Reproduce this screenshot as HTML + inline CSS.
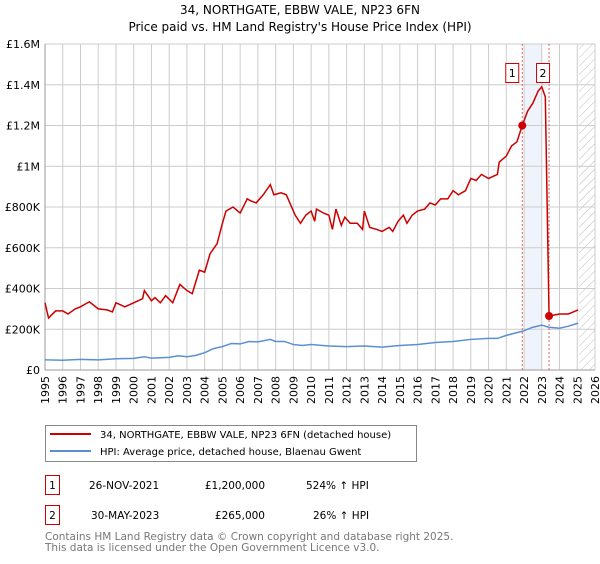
<!DOCTYPE html>
<html><head><meta charset="utf-8"><style>
body{margin:0;background:#fff;font-family:"DejaVu Sans","Liberation Sans",sans-serif;}
svg text{font-family:"DejaVu Sans","Liberation Sans",sans-serif;}
</style></head><body>
<svg id="chart" width="600" height="560" viewBox="0 0 600 560" xmlns="http://www.w3.org/2000/svg">
<defs><pattern id="hatch" width="6" height="6" patternUnits="userSpaceOnUse" patternTransform="rotate(45)"><line x1="0" y1="0" x2="0" y2="6" stroke="#bbb" stroke-width="1"/></pattern></defs>
<text x="300" y="14" text-anchor="middle" font-size="12">34, NORTHGATE, EBBW VALE, NP23 6FN</text>
<text x="300" y="31" text-anchor="middle" font-size="12">Price paid vs. HM Land Registry's House Price Index (HPI)</text>
<g id="grid"></g>
<g id="marks"></g>
<g>
<rect x="45.5" y="425.5" width="371" height="36" fill="#fff" stroke="#888"/>
<line x1="50" y1="434" x2="91" y2="434" stroke="#cc0000" stroke-width="2"/>
<text x="100" y="438" font-size="10">34, NORTHGATE, EBBW VALE, NP23 6FN (detached house)</text>
<line x1="50" y1="451" x2="91" y2="451" stroke="#5b8fd4" stroke-width="2"/>
<text x="100" y="455" font-size="10">HPI: Average price, detached house, Blaenau Gwent</text>
</g>
<g font-size="10.5">
<rect x="45.5" y="475.5" width="14" height="19" fill="#fff" stroke="#cc0000"/>
<text x="52.5" y="489" text-anchor="middle">1</text>
<text x="89" y="489">26-NOV-2021</text><text x="265" y="489" text-anchor="end">£1,200,000</text><text x="306" y="489">524% ↑ HPI</text>
<rect x="45.5" y="505.5" width="14" height="19" fill="#fff" stroke="#cc0000"/>
<text x="52.5" y="519" text-anchor="middle">2</text>
<text x="91" y="519">30-MAY-2023</text><text x="265" y="519" text-anchor="end">£265,000</text><text x="313" y="519">26% ↑ HPI</text>
</g>
<text x="45" y="540" font-size="10.5" fill="#777">Contains HM Land Registry data © Crown copyright and database right 2025.</text>
<text x="45" y="551" font-size="10.5" fill="#777">This data is licensed under the Open Government Licence v3.0.</text>
</svg>
<script>
const redYears=[1995,1995.2,1995.6,1996,1996.3,1996.7,1997,1997.5,1998,1998.5,1998.8,1999,1999.5,2000,2000.5,2000.6,2001,2001.2,2001.5,2001.8,2002.2,2002.6,2003,2003.3,2003.7,2004,2004.3,2004.7,2005,2005.2,2005.6,2006,2006.4,2006.6,2006.9,2007.3,2007.7,2007.9,2008.3,2008.6,2008.8,2009.1,2009.4,2009.7,2010,2010.2,2010.3,2010.7,2011,2011.2,2011.4,2011.7,2011.9,2012.2,2012.6,2012.9,2013,2013.3,2013.7,2014,2014.4,2014.6,2014.9,2015.2,2015.4,2015.7,2016,2016.4,2016.7,2017,2017.3,2017.7,2018,2018.3,2018.7,2019,2019.3,2019.6,2020,2020.5,2020.6,2021,2021.3,2021.6,2021.9,2022.2,2022.5,2022.8,2023,2023.2,2023.41,2023.7,2024,2024.5,2025.05];
const redValues=[330,255,290,290,275,300,310,335,300,295,285,330,310,330,350,390,340,355,330,365,330,420,390,375,490,480,570,620,720,780,800,770,840,830,820,860,910,860,870,860,820,760,720,760,780,730,790,770,760,690,790,710,750,720,720,690,780,700,690,680,700,680,730,760,720,760,780,790,820,810,840,840,880,860,880,940,930,960,940,960,1020,1050,1100,1120,1200,1270,1310,1370,1390,1340,265,270,275,275,295];
const hpiYears=[1995,1996,1997,1998,1999,2000,2000.6,2001,2002,2002.5,2003,2003.5,2004,2004.5,2005,2005.5,2006,2006.5,2007,2007.7,2008,2008.5,2009,2009.5,2010,2011,2012,2013,2014,2015,2016,2017,2018,2019,2020,2020.5,2021,2021.9,2022.5,2023,2023.4,2024,2024.5,2025.05];
const hpiValues=[50,48,52,50,55,57,65,58,62,70,65,72,85,105,115,130,128,140,138,150,140,140,125,120,125,118,115,118,112,120,125,135,140,150,155,155,170,190,210,220,210,205,215,230];
const yTicks=[0,200,400,600,800,1000,1200,1400,1600];
const yTickLabels=["£0","£200K","£400K","£600K","£800K","£1M","£1.2M","£1.4M","£1.6M"];
const saleYears=[2021.9,2023.41];
const saleValues=[1200,265];
const saleLabels=["1","2"];

const NS="http://www.w3.org/2000/svg";
const X0=45,X1=595,Y0=370,Y1=44;
const xs=y=>X0+(y-1995)/(2026-1995)*(X1-X0);
const ys=v=>Y0-v/1600*(Y0-Y1);
function mk(tag,attrs,parent){const e=document.createElementNS(NS,tag);for(const k in attrs)e.setAttribute(k,attrs[k]);parent.appendChild(e);return e;}
const grid=document.getElementById('grid'),marks=document.getElementById('marks');
const band=mk('rect',{x:xs(2022),y:Y1,width:xs(2023)-xs(2022),height:Y0-Y1,fill:'#eef3fc'},grid);


const hatch=mk('rect',{x:xs(2025.1),y:Y1,width:X1-xs(2025.1),height:Y0-Y1,fill:'url(#hatch)'},grid);


for(let yr=1995;yr<=2026;yr++){
  const x=xs(yr);
  mk('line',{x1:x,y1:Y1,x2:x,y2:Y0,stroke:'#ccc','stroke-width':1},grid);
  const t=mk('text',{x:0,y:0,'font-size':11,'text-anchor':'end',transform:`translate(${x+4},376) rotate(-90)`},grid);
  t.textContent=String(yr);
  
  
}
yTicks.forEach((v,i)=>{
  const y=ys(v);
  mk('line',{x1:X0,y1:y,x2:X1,y2:y,stroke:'#ccc','stroke-width':1},grid);
  const t=mk('text',{x:X0-5,y:y+4,'font-size':11,'text-anchor':'end'},grid);
  t.textContent=yTickLabels[i];
  
  
});
mk('line',{x1:X0,y1:Y1,x2:X0,y2:Y0,stroke:'#999'},grid);
mk('line',{x1:X0,y1:Y0,x2:X1,y2:Y0,stroke:'#999'},grid);
saleYears.forEach((yr,i)=>{
  const v=mk('line',{x1:xs(yr),y1:Y1,x2:xs(yr),y2:Y0,stroke:'#e06060','stroke-width':1,'stroke-dasharray':'2,2'},marks);
  
  
});
const hp=mk('polyline',{points:hpiYears.map((y,i)=>xs(y)+','+ys(hpiValues[i])).join(' '),fill:'none',stroke:'#5b8fd4','stroke-width':1.5},marks);


const rp=mk('polyline',{points:redYears.map((y,i)=>xs(y)+','+ys(redValues[i])).join(' '),fill:'none',stroke:'#cc0000','stroke-width':1.5},marks);


saleYears.forEach((yr,i)=>{
  const c=mk('circle',{cx:xs(yr),cy:ys(saleValues[i]),r:4,fill:'#cc0000'},marks);
  
  
  const bx=xs(yr)-(i==0?10:6);
  const r=mk('rect',{x:bx-6.5,y:63.5,width:13,height:19,fill:'#fff',stroke:'#cc0000'},marks);
  
  
  const t=mk('text',{x:bx,y:77,'font-size':11,'text-anchor':'middle'},marks);
  t.textContent=saleLabels[i];
  
  
});
</script>
</body></html>
